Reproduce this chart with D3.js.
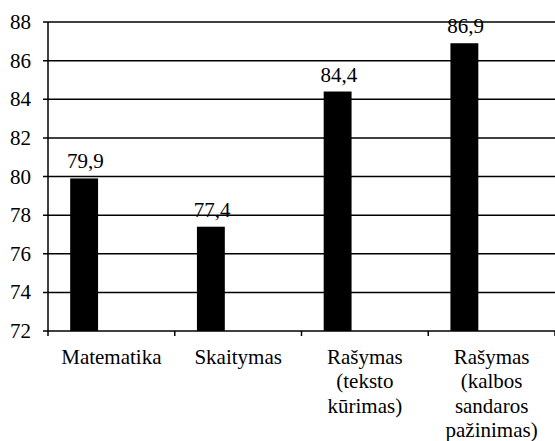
<!DOCTYPE html>
<html>
<head>
<meta charset="utf-8">
<script src="https://cdn.jsdelivr.net/npm/d3@7"></script>
</head>
<body style="margin:0">
<svg id="chart" width="555" height="441"></svg>
<script>
const categories = ["Matematika", "Skaitymas", "Rašymas (teksto kūrimas)", "Rašymas (kalbos sandaros pažinimas)"];
const categoryLines = [["Matematika"], ["Skaitymas"], ["Rašymas", "(teksto", "kūrimas)"], ["Rašymas", "(kalbos", "sandaros", "pažinimas)"]];
const values = [79.9, 77.4, 84.4, 86.9];
const valueLabels = ["79,9", "77,4", "84,4", "86,9"];
const yTicks = [72, 74, 76, 78, 80, 82, 84, 86, 88];

const svg = d3.select("#chart");
const mLeft = 48, mRight = 555, mTop = 22, mBottom = 331;

const x = d3.scaleBand().domain(categories).range([mLeft, mRight]).padding(0);
const y = d3.scaleLinear().domain([72, 88]).range([mBottom, mTop]);

// gridlines + y ticks
svg.append("g").selectAll("line").data(yTicks).join("line")
  .attr("x1", mLeft - 5).attr("x2", mRight)
  .attr("y1", d => y(d)).attr("y2", d => y(d))
  .attr("stroke", "#000").attr("stroke-width", 1.5);

svg.append("g").selectAll("text").data(yTicks).join("text")
  .attr("x", mLeft - 17).attr("y", d => y(d) + 7)
  .attr("text-anchor", "end")
  .attr("font-size", 21)
  .style("font-family", d => `"Liberation Serif"`)
  .text(d => d);

// y axis line
svg.append("line").attr("x1", mLeft).attr("x2", mLeft)
  .attr("y1", mTop).attr("y2", mBottom)
  .attr("stroke", "#000").attr("stroke-width", 1.5);

// x ticks at band boundaries
const bounds = categories.map(c => x(c)).concat([mRight]);
svg.append("g").selectAll("line").data(bounds).join("line")
  .attr("x1", d => d).attr("x2", d => d)
  .attr("y1", mBottom).attr("y2", mBottom + 5)
  .attr("stroke", "#000").attr("stroke-width", 1.5);

// bars
const bw = x.bandwidth();
svg.append("g").selectAll("rect").data(values).join("rect")
  .attr("x", (d, i) => x(categories[i]) + bw * 0.175)
  .attr("width", bw * 0.22)
  .attr("y", d => y(d))
  .attr("height", d => mBottom - y(d))
  .attr("fill", "#000");

// value labels
svg.append("g").selectAll("text").data(values).join("text")
  .attr("x", (d, i) => x(categories[i]) + bw * 0.175 + bw * 0.12)
  .attr("y", d => y(d) - 10)
  .attr("text-anchor", "middle")
  .attr("font-size", 21)
  .style("font-family", d => `"Liberation Serif"`)
  .text((d, i) => valueLabels[i]);

// category labels (one text element per line)
const catLines = [];
categories.forEach((c, i) => categoryLines[i].forEach((t, j) => catLines.push({c, t, j})));
svg.append("g").selectAll("text").data(catLines).join("text")
  .attr("x", d => x(d.c) + bw / 2)
  .attr("y", d => 364 + d.j * 24.3)
  .attr("text-anchor", "middle")
  .attr("font-size", 21)
  .style("font-family", d => `"Liberation Serif"`)
  .text(d => d.t);
</script>
</body>
</html>
